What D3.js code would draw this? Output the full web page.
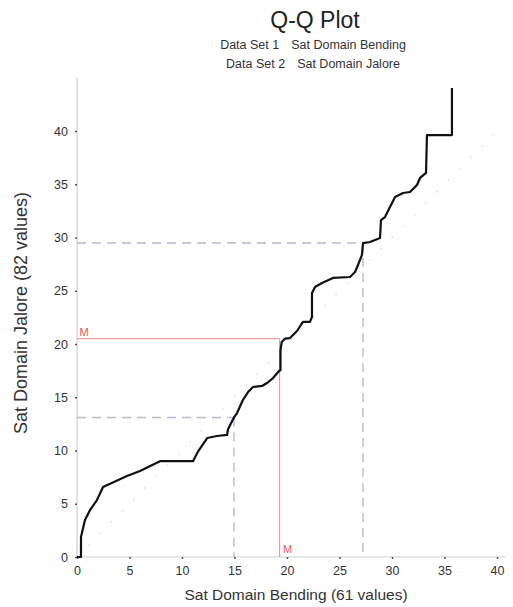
<!DOCTYPE html>
<html>
<head>
<meta charset="utf-8">
<script src="https://cdn.jsdelivr.net/npm/d3@7"></script>
<style>
  html, body { margin: 0; padding: 0; background: #fff; }
  svg { display: block; font-family: "Liberation Sans", Arial, sans-serif; }
</style>
</head>
<body>
<svg id="chart" width="513" height="607"></svg>
<script>
// Quantile pairs: Sat Domain Bending (x) against Sat Domain Jalore (y)
const bendingQ = [0, 0.38, 0.38, 0.76, 1.24, 1.9, 2.48, 4.76, 6.0, 7.9, 11.05, 11.5, 12.4, 13.33, 14.29, 14.38,
  14.95, 15.24, 15.8, 16.29, 16.76, 17.62, 18.1, 18.67, 19.24, 19.38, 19.38, 19.5, 19.8, 20.29, 20.95, 21.52,
  22.19, 22.38, 22.38, 22.67, 23.33, 24.38, 26.0, 26.48, 26.76, 27.14, 27.24, 27.9, 28.86, 28.95, 29.33,
  29.81, 30.29, 31.05, 31.71, 32.38, 32.67, 33.24, 33.33, 35.71, 35.71];
const jaloreQ = [0, 0, 1.88, 3.47, 4.41, 5.35, 6.57, 7.6, 8.07, 9.0, 9.0, 9.86, 11.17, 11.36, 11.46, 12.0,
  13.1, 13.52, 14.74, 15.49, 15.96, 16.06, 16.34, 16.8, 17.46, 17.56, 19.44, 20.19, 20.5, 20.56, 21.22, 22.07,
  22.07, 22.54, 24.79, 25.35, 25.73, 26.2, 26.29, 26.76, 27.42, 28.36, 29.48, 29.58, 29.95, 31.64, 31.92,
  32.86, 33.8, 34.18, 34.27, 34.93, 35.59, 36.06, 39.62, 39.62, 44.04];

// Lower quartile, median, upper quartile of each data set
const quartileLabels = ["Q1", "M", "Q3"];
const bendingQuartiles = [14.95, 19.3, 27.24];
const jaloreQuartiles = [13.1, 20.5, 29.48];

const xTicks = [0, 5, 10, 15, 20, 25, 30, 35, 40];
const yTicks = [0, 5, 10, 15, 20, 25, 30, 35, 40];

const titleText = "Q-Q Plot";
const subtitleRows = [["Data Set 1", "Sat Domain Bending"], ["Data Set 2", "Sat Domain Jalore"]];
const xLabel = "Sat Domain Bending (61 values)";
const yLabel = "Sat Domain Jalore (82 values)";

const svg = d3.select("#chart");

const x = d3.scaleLinear().domain([0, 40]).range([77, 497]);
const y = d3.scaleLinear().domain([0, 45]).range([557, 77.75]);

// Axis lines
const axisColor = "#cfcfcf";
svg.append("line").attr("x1", x(0)).attr("x2", 505).attr("y1", y(0)).attr("y2", y(0))
  .attr("stroke", axisColor).attr("stroke-width", 1.2);
svg.append("line").attr("x1", x(0)).attr("x2", x(0)).attr("y1", y(0)).attr("y2", y(45))
  .attr("stroke", axisColor).attr("stroke-width", 1.2);

// Axes with tiny tick marks
const xAxis = svg.append("g").attr("transform", `translate(0,${y(0)})`)
  .call(d3.axisBottom(x).tickValues(xTicks).tickSize(2).tickPadding(7).tickFormat(d3.format("d")));
const yAxis = svg.append("g").attr("transform", `translate(${x(0)},0)`)
  .call(d3.axisLeft(y).tickValues(yTicks).tickSize(2).tickPadding(7).tickFormat(d3.format("d")));
[xAxis, yAxis].forEach(g => {
  g.select(".domain").remove();
  g.selectAll(".tick line").attr("stroke", "#555").attr("stroke-width", 1.5);
  g.selectAll(".tick text").attr("fill", "#333").style("font-size", "12.5px")
    .style("font-family", "\"Liberation Sans\", Arial, sans-serif");
});

// Faint y = x reference
svg.append("line")
  .attr("x1", x(0)).attr("y1", y(0)).attr("x2", x(40)).attr("y2", y(40))
  .attr("stroke", "#e4e4e4").attr("stroke-width", 1.5).attr("stroke-dasharray", "2,14");

// Quartile guide lines (dashed) and median guides (solid red)
quartileLabels.forEach((lab, i) => {
  const isMedian = lab === "M";
  const col = isMedian ? "#f08a8a" : "#b4bccf";
  const g = svg.append("g")
    .attr("stroke", col)
    .attr("stroke-width", isMedian ? 1 : 1.4)
    .attr("stroke-dasharray", isMedian ? null : "9,6")
    .attr("fill", "none");
  g.append("line").attr("x1", x(0)).attr("y1", y(jaloreQuartiles[i]))
    .attr("x2", x(bendingQuartiles[i])).attr("y2", y(jaloreQuartiles[i]));
  g.append("line").attr("x1", x(bendingQuartiles[i])).attr("y1", y(jaloreQuartiles[i]))
    .attr("x2", x(bendingQuartiles[i])).attr("y2", y(0));
  if (isMedian) {
    svg.append("text").attr("x", x(0) + 7).attr("y", y(jaloreQuartiles[i]) - 3)
      .attr("text-anchor", "middle").attr("fill", "#e05a5a").style("font-size", "11px").text(lab);
    svg.append("text").attr("x", x(bendingQuartiles[i]) + 8).attr("y", y(0) - 4)
      .attr("text-anchor", "middle").attr("fill", "#e05a5a").style("font-size", "11px").text(lab);
  }
});

// Q-Q curve
const pts = bendingQ.map((b, i) => [b, jaloreQ[i]]);
svg.append("path")
  .datum(pts)
  .attr("d", d3.line().x(d => x(d[0])).y(d => y(d[1])))
  .attr("fill", "none").attr("stroke", "#111").attr("stroke-width", 2.2)
  .attr("stroke-linejoin", "round");

// Titles
svg.append("text").attr("x", 315).attr("y", 28).attr("text-anchor", "middle")
  .style("font-size", "23px").attr("fill", "#222").text(titleText);
subtitleRows.forEach((row, i) => {
  const t = svg.append("text").attr("x", 313).attr("y", 49 + i * 18.5).attr("text-anchor", "middle")
    .style("font-size", "12.5px").attr("fill", "#333");
  t.append("tspan").text(row[0]);
  t.append("tspan").attr("dx", 12).text(row[1]);
});

// Axis titles
svg.append("text").attr("x", 296).attr("y", 600).attr("text-anchor", "middle")
  .style("font-size", "15.5px").attr("fill", "#333").text(xLabel);
svg.append("text").attr("transform", "translate(27,313) rotate(-90)").attr("text-anchor", "middle")
  .style("font-size", "18px").attr("fill", "#333").text(yLabel);
</script>
</body>
</html>
